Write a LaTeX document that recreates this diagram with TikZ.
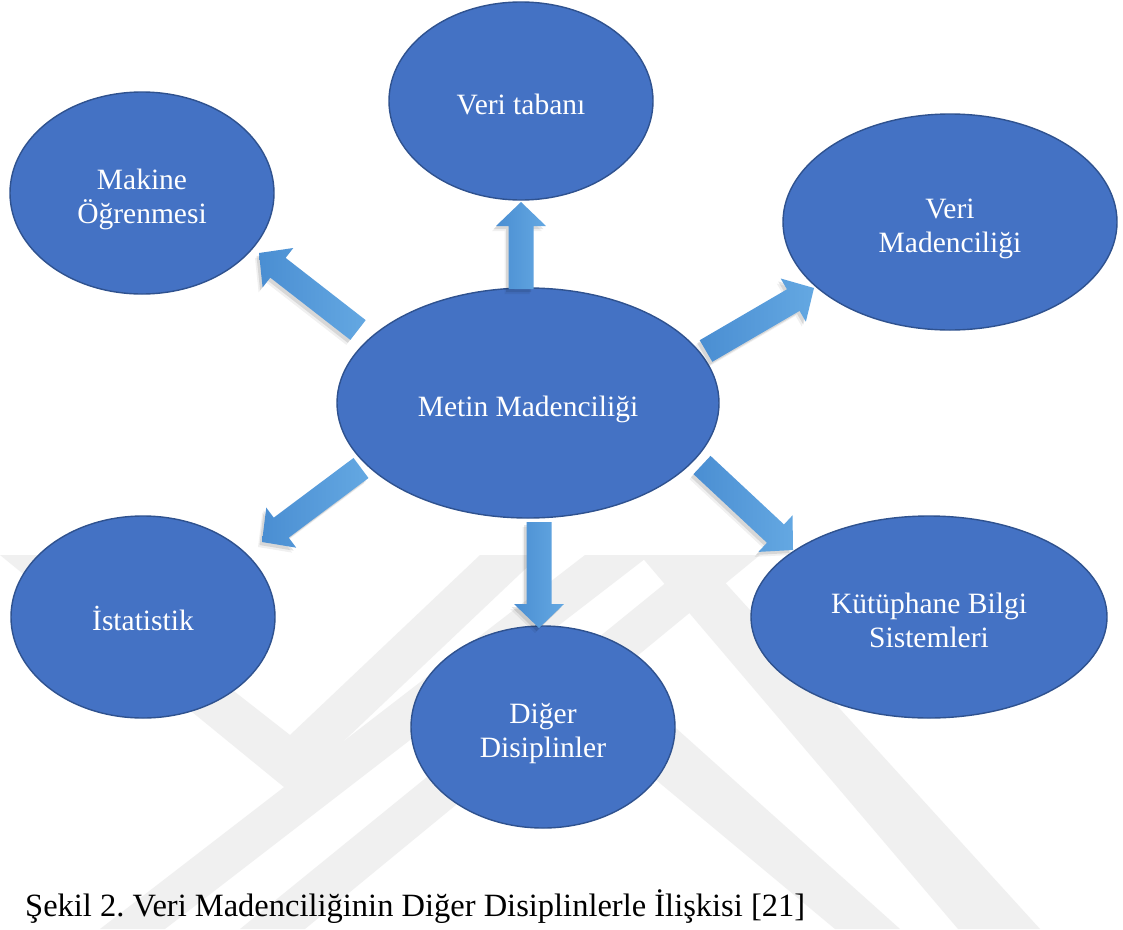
\documentclass[tikz,border=0pt]{standalone}
\usepackage{fontspec}
\setmainfont{Liberation Serif}
\usetikzlibrary{shapes.geometric,calc}

\definecolor{bubfill}{HTML}{4472C4}
\definecolor{bubline}{HTML}{2F528F}
\definecolor{arrdark}{HTML}{4A8ED2}
\definecolor{arrlight}{HTML}{64A8E2}
\definecolor{wmark}{HTML}{F0F0F0}

\tikzset{
  bub/.style={ellipse, fill=bubfill, draw=bubline, line width=1.4pt,
    text=white, inner sep=0pt,
    font=\fontsize{29.5}{34}\selectfont},
  arrbody/.style={left color=arrdark, right color=arrlight, draw=none},
  arrshadow/.style={fill=black, fill opacity=#1, draw=none},
  wm/.style={fill=wmark, draw=none},
}

% centred bubble text, one or more lines, set a little below the centre
\newcommand\bubtext[1]{\raisebox{-6.5pt}[\height][\depth]{\begin{tabular}{@{}c@{}}#1\end{tabular}}}

% outline of a block arrow from tail #1 to tip #2
\newcommand\arrowoutline[2]{%
  ($(#1)!12.5pt!90:(#2)$) -- ($(#1-hb)!12.5pt!-90:(#1)$) --
  ($(#1-hb)!25pt!-90:(#1)$) -- (#2) --
  ($(#1-hb)!25pt!90:(#1)$) -- ($(#1-hb)!12.5pt!90:(#1)$) --
  ($(#1)!12.5pt!-90:(#2)$) -- cycle}

% block arrow with a soft drop shadow
\newcommand\blockarrow[2]{%
  \coordinate (#1-hb) at ($(#2)!24pt!(#1)$);
  \begin{scope}[transform canvas={shift={(-4pt,-5pt)}}]
    \path[arrshadow=0.06] \arrowoutline{#1}{#2};
  \end{scope}
  \begin{scope}[transform canvas={shift={(-2.5pt,-3pt)}}]
    \path[arrshadow=0.10] \arrowoutline{#1}{#2};
  \end{scope}
  \shade[arrbody] \arrowoutline{#1}{#2};
}

\begin{document}
\frenchspacing
\begin{tikzpicture}[x=1pt, y=-1pt]
\useasboundingbox (0,0) rectangle (1123,929);
\fill[white] (0,0) rectangle (1123,929);

% faint background emblem
\begin{scope}
  \clip (0,553) rectangle (1123,929);
  \fill[wm] (0,555) -- (60,555) -- (290,735) -- (480,555) -- (540,555)
            -- (290,792) -- cycle;
  \fill[wm] (100,929) -- (165,929) -- (650,555) -- (585,555) -- cycle;
  \fill[wm] (240,929) -- (305,929) -- (760,555) -- (700,555) -- cycle;
  \fill[wm] (640,555) -- (700,555) -- (1040,929) -- (958,929) -- cycle;
  \fill[wm] (560,700) -- (600,660) -- (900,929) -- (835,929) -- cycle;
\end{scope}

% topic bubbles
\node[bub, minimum width=264pt, minimum height=198pt] (vt) at (521,101) {\bubtext{Veri tabanı}};
\node[bub, minimum width=264pt, minimum height=202pt] (mo) at (142,193) {\bubtext{Makine\\Öğrenmesi}};
\node[bub, minimum width=334pt, minimum height=216pt] (vm) at (950,222) {\bubtext{Veri\\Madenciliği}};
\node[bub, minimum width=382pt, minimum height=230pt] (mm) at (528,403) {\bubtext{Metin Madenciliği}};
\node[bub, minimum width=264pt, minimum height=202pt] (is) at (143,617) {\bubtext{İstatistik}};
\node[bub, minimum width=264pt, minimum height=202pt] (dd) at (543,727) {\bubtext{Diğer\\Disiplinler}};
\node[bub, minimum width=356pt, minimum height=202pt] (kb) at (929,617) {\bubtext{Kütüphane Bilgi\\Sistemleri}};

% arrow ends
\coordinate (aUp) at (521,289);   \coordinate (aUpT) at (521,202);
\coordinate (aDn) at (539,522);   \coordinate (aDnT) at (539,628);
\coordinate (aUL) at (358,330);   \coordinate (aULT) at (259,253);
\coordinate (aUR) at (706,351);   \coordinate (aURT) at (814,288);
\coordinate (aDL) at (361,468);   \coordinate (aDLT) at (262,542);
\coordinate (aDR) at (702,465);   \coordinate (aDRT) at (793,550);

\blockarrow{aUp}{aUpT}
\blockarrow{aDn}{aDnT}
\blockarrow{aUL}{aULT}
\blockarrow{aUR}{aURT}
\blockarrow{aDL}{aDLT}
\blockarrow{aDR}{aDRT}

% caption
\node[anchor=base west, inner sep=0pt, font=\fontsize{32.5}{38}\selectfont] (cap)
  at (25,916) {Şekil 2. Veri Madenciliğinin Diğer Disiplinlerle İlişkisi [21]};
\end{tikzpicture}
\end{document}
